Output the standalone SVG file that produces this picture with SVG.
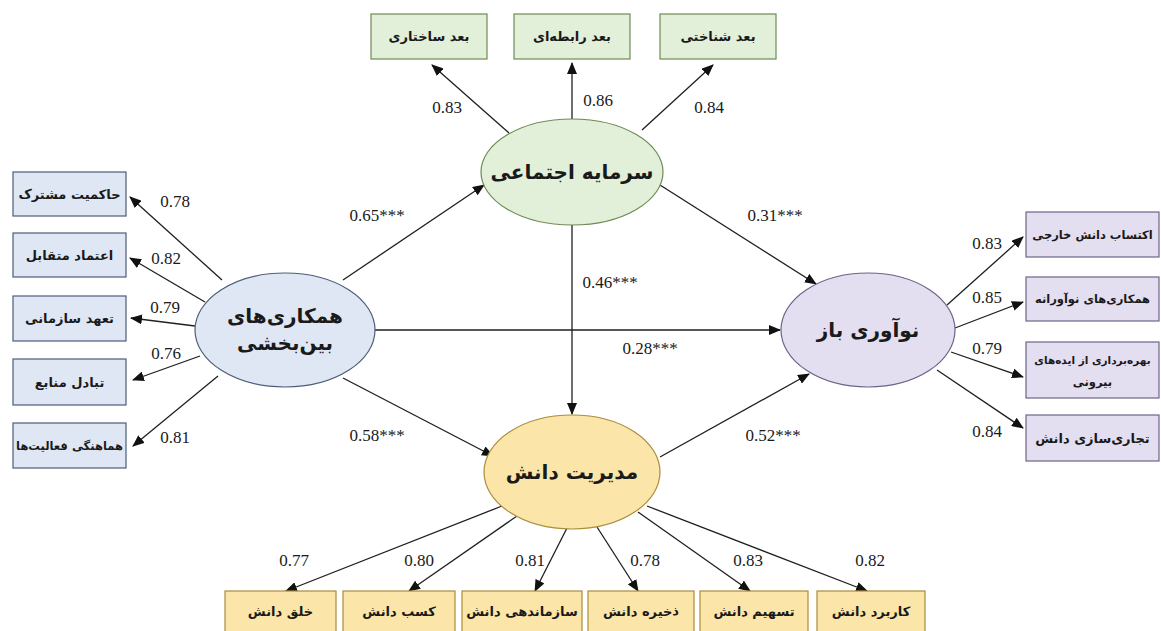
<svg xmlns="http://www.w3.org/2000/svg" width="1161" height="631" viewBox="0 0 1161 631">
<style>
.fa{font-family:"DejaVu Sans","Noto Sans",sans-serif;font-weight:bold;fill:#1a1a1a;text-anchor:middle;direction:rtl}
.bx{font-size:13px}
.sm{font-size:11.5px}
.el{font-size:20px}
.num{font-family:"Liberation Serif","Times New Roman",serif;font-size:17px;fill:#1a1a1a;text-anchor:middle}
.ln{stroke:#1f1f1f;stroke-width:1.3;fill:none;marker-end:url(#ah)}
.g{fill:#e2efd9;stroke:#6f8a55;stroke-width:1.2}
.b{fill:#dfe7f4;stroke:#4e5d78;stroke-width:1.2}
.p{fill:#e3def0;stroke:#6e6388;stroke-width:1.2}
.y{fill:#fbe5a8;stroke:#a98d3a;stroke-width:1.2}
</style>
<defs>
<marker id="ah" viewBox="0 0 12 10" refX="11" refY="5" markerWidth="12" markerHeight="10" markerUnits="userSpaceOnUse" orient="auto">
<path d="M0,0 L12,5 L0,10 Z" fill="#111"/>
</marker>
</defs>
<rect width="1161" height="631" fill="#ffffff"/>

<g id="connectors">
<line class="ln" x1="509" y1="133" x2="432" y2="65"/>
<line class="ln" x1="572" y1="119" x2="572" y2="63"/>
<line class="ln" x1="642" y1="130" x2="713" y2="65"/>
<line class="ln" x1="222" y1="280" x2="130" y2="197"/>
<line class="ln" x1="205" y1="302" x2="130" y2="258"/>
<line class="ln" x1="195" y1="326" x2="131" y2="318"/>
<line class="ln" x1="200" y1="356" x2="133" y2="380"/>
<line class="ln" x1="218" y1="376" x2="133" y2="446"/>
<line class="ln" x1="947" y1="305" x2="1023" y2="237"/>
<line class="ln" x1="955" y1="328" x2="1023" y2="302"/>
<line class="ln" x1="951" y1="352" x2="1023" y2="377"/>
<line class="ln" x1="937" y1="370" x2="1023" y2="428"/>
<line class="ln" x1="502" y1="506" x2="286" y2="591"/>
<line class="ln" x1="517" y1="516" x2="409" y2="591"/>
<line class="ln" x1="567" y1="528" x2="535" y2="591"/>
<line class="ln" x1="597" y1="527" x2="638" y2="591"/>
<line class="ln" x1="638" y1="512" x2="750" y2="591"/>
<line class="ln" x1="647" y1="506" x2="867" y2="591"/>
<line class="ln" x1="343" y1="280" x2="484" y2="185"/>
<line class="ln" x1="660" y1="185" x2="816" y2="284"/>
<line class="ln" x1="572" y1="225" x2="572" y2="414"/>
<line class="ln" x1="375" y1="330" x2="780" y2="330"/>
<line class="ln" x1="343" y1="378" x2="493" y2="456"/>
<line class="ln" x1="660" y1="457" x2="809" y2="374"/>
</g>

<g id="labels">
<text class="num" x="447" y="113">0.83</text>
<text class="num" x="598" y="106">0.86</text>
<text class="num" x="709" y="113">0.84</text>
<text class="num" x="175" y="207">0.78</text>
<text class="num" x="166" y="264">0.82</text>
<text class="num" x="165" y="313">0.79</text>
<text class="num" x="166" y="359">0.76</text>
<text class="num" x="175" y="443">0.81</text>
<text class="num" x="987" y="249">0.83</text>
<text class="num" x="987" y="303">0.85</text>
<text class="num" x="987" y="354">0.79</text>
<text class="num" x="987" y="437">0.84</text>
<text class="num" x="294" y="566">0.77</text>
<text class="num" x="419" y="566">0.80</text>
<text class="num" x="530" y="566">0.81</text>
<text class="num" x="645" y="566">0.78</text>
<text class="num" x="748" y="566">0.83</text>
<text class="num" x="870" y="566">0.82</text>
<text class="num" x="377" y="221">0.65***</text>
<text class="num" x="775" y="221">0.31***</text>
<text class="num" x="610" y="288">0.46***</text>
<text class="num" x="650" y="354">0.28***</text>
<text class="num" x="377" y="441">0.58***</text>
<text class="num" x="773" y="441">0.52***</text>
</g>

<g id="n-social">
<ellipse class="g" cx="572" cy="172" rx="91" ry="53"/>
<text class="fa el" x="572" y="179">سرمایه اجتماعی</text>
</g>
<g id="n-intersect">
<ellipse class="b" cx="285" cy="330" rx="90" ry="57"/>
<text class="fa el" x="285" y="323">همکاری‌های</text>
<text class="fa el" x="285" y="350">بین‌بخشی</text>
</g>
<g id="n-open">
<ellipse class="p" cx="868" cy="330" rx="87" ry="57"/>
<text class="fa el" x="868" y="337">نوآوری باز</text>
</g>
<g id="n-km">
<ellipse class="y" cx="572" cy="472" rx="88" ry="57"/>
<text class="fa el" x="572" y="479">مدیریت دانش</text>
</g>

<g id="n-top1"><rect class="g" x="371" y="14" width="116" height="45"/><text class="fa bx" x="429" y="41">بعد ساختاری</text></g>
<g id="n-top2"><rect class="g" x="514" y="14" width="116" height="45"/><text class="fa bx" x="572" y="41">بعد رابطه‌ای</text></g>
<g id="n-top3"><rect class="g" x="660" y="14" width="116" height="45"/><text class="fa bx" x="718" y="41">بعد شناختی</text></g>

<g id="n-left1"><rect class="b" x="13" y="172" width="113" height="44"/><text class="fa bx" x="69.5" y="199">حاکمیت مشترک</text></g>
<g id="n-left2"><rect class="b" x="13" y="233" width="113" height="44"/><text class="fa bx" x="69.5" y="260">اعتماد متقابل</text></g>
<g id="n-left3"><rect class="b" x="13" y="296" width="113" height="45"/><text class="fa bx" x="69.5" y="323">تعهد سازمانی</text></g>
<g id="n-left4"><rect class="b" x="13" y="359" width="113" height="46"/><text class="fa bx" x="69.5" y="387">تبادل منابع</text></g>
<g id="n-left5"><rect class="b" x="13" y="423" width="113" height="45"/><text class="fa sm" x="69.5" y="450">هماهنگی فعالیت‌ها</text></g>

<g id="n-right1"><rect class="p" x="1026" y="212" width="133" height="45"/><text class="fa sm" x="1092.5" y="239">اکتساب دانش خارجی</text></g>
<g id="n-right2"><rect class="p" x="1026" y="277" width="133" height="44"/><text class="fa sm" x="1092.5" y="303">همکاری‌های نوآورانه</text></g>
<g id="n-right3"><rect class="p" x="1026" y="342" width="133" height="56"/><text class="fa" font-size="10.5" x="1092.5" y="364">بهره‌برداری از ایده‌های</text><text class="fa sm" x="1092.5" y="386">بیرونی</text></g>
<g id="n-right4"><rect class="p" x="1026" y="415" width="133" height="46"/><text class="fa bx" x="1092.5" y="443">تجاری‌سازی دانش</text></g>

<g id="n-bot1"><rect class="y" x="225" y="591" width="111" height="46"/><text class="fa bx" x="280.5" y="616">خلق دانش</text></g>
<g id="n-bot2"><rect class="y" x="343" y="591" width="112" height="46"/><text class="fa bx" x="399" y="616">کسب دانش</text></g>
<g id="n-bot3"><rect class="y" x="462" y="591" width="120" height="46"/><text class="fa bx" x="522" y="616">سازماندهی دانش</text></g>
<g id="n-bot4"><rect class="y" x="588" y="591" width="106" height="46"/><text class="fa bx" x="641" y="616">ذخیره دانش</text></g>
<g id="n-bot5"><rect class="y" x="700" y="591" width="108" height="46"/><text class="fa bx" x="754" y="616">تسهیم دانش</text></g>
<g id="n-bot6"><rect class="y" x="817" y="591" width="108" height="46"/><text class="fa bx" x="871" y="616">کاربرد دانش</text></g>
</svg>
